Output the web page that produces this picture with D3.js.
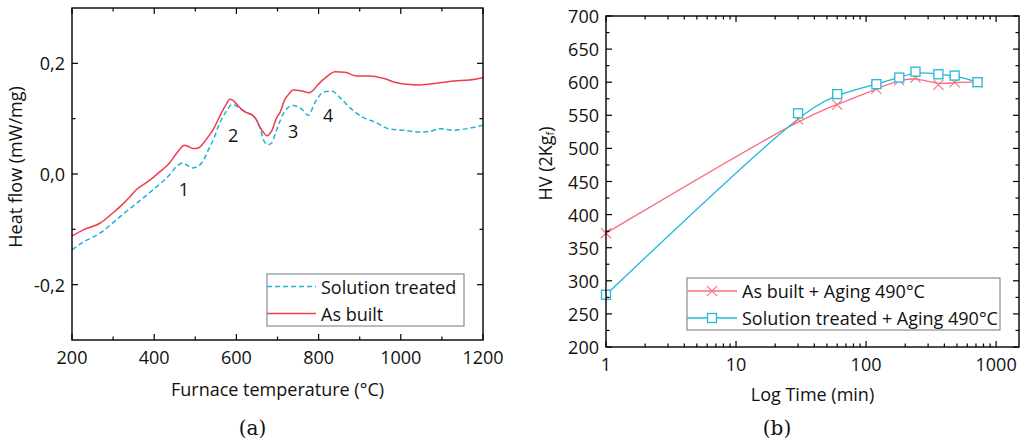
<!DOCTYPE html>
<html>
<head>
<meta charset="utf-8">
<script src="https://cdn.jsdelivr.net/npm/d3@7"></script>
<style>
  body { margin: 0; background: #fff; }
  svg { display: block; font-family: "Open Sans", sans-serif; }
  .tick-label { font-size: 18px; fill: #111; }
  .axis-title { font-size: 18px; fill: #111; }
  .legend-text { font-size: 18px; fill: #111; }
  .caption { font-family: "DejaVu Serif", serif; font-size: 20px; fill: #111; }
</style>
</head>
<body>
<div id="viz"></div>
<script>
// (a) DSC heat flow curves
const asBuiltT = [200, 230, 268, 300, 317, 340, 357, 380, 398, 420, 434, 455, 465, 473, 485, 495, 507, 520, 532, 545,
  556, 573, 584, 590, 597, 617, 641, 650, 657, 667, 674, 680, 686, 698, 706, 718, 726, 738, 759, 777, 785, 799,
  820, 840, 864, 893, 925, 957, 990, 1014, 1047, 1087, 1128, 1168, 1200];
const asBuiltHF = [-0.112, -0.100, -0.089, -0.070, -0.059, -0.042, -0.028, -0.016, -0.006, 0.008, 0.017, 0.038, 0.047,
  0.052, 0.049, 0.046, 0.047, 0.056, 0.068, 0.082, 0.099, 0.123, 0.135, 0.134, 0.129, 0.114, 0.105, 0.096, 0.085,
  0.074, 0.069, 0.072, 0.078, 0.102, 0.111, 0.135, 0.143, 0.152, 0.150, 0.147, 0.150, 0.162, 0.176, 0.185, 0.184,
  0.177, 0.177, 0.173, 0.165, 0.162, 0.161, 0.164, 0.168, 0.170, 0.174];
const solTreatedT = [200, 230, 268, 300, 317, 357, 398, 438, 455, 469, 480, 491, 507, 520, 532, 545, 556, 576, 590, 609,
  630, 641, 650, 661, 668, 677, 686, 698, 718, 738, 759, 775, 791, 812, 832, 852, 876, 909, 937, 969, 1006, 1047,
  1071, 1095, 1128, 1168, 1200];
const solTreatedHF = [-0.137, -0.122, -0.107, -0.088, -0.077, -0.053, -0.028, -0.001, 0.014, 0.020, 0.016, 0.011, 0.014,
  0.025, 0.044, 0.064, 0.086, 0.114, 0.126, 0.118, 0.109, 0.105, 0.096, 0.074, 0.058, 0.053, 0.056, 0.080, 0.114,
  0.124, 0.117, 0.106, 0.129, 0.148, 0.150, 0.138, 0.120, 0.102, 0.094, 0.082, 0.079, 0.076, 0.077, 0.082, 0.079,
  0.083, 0.088];
const peakLabels = ['1', '2', '3', '4'];
const peakT = [472, 592, 738, 823];
const peakHF = [-0.027, 0.070, 0.077, 0.106];
const tempTicks = [200, 400, 600, 800, 1000, 1200];
const tempMinor = [300, 500, 700, 900, 1100];
const hfTicks = [-0.2, 0.0, 0.2];
const hfMinor = [-0.1, 0.1];

// (b) hardness vs aging time
const agingTime = [1, 30, 60, 120, 180, 240, 360, 480, 720];
const hvAsBuilt = [372, 544, 566, 590, 603, 607, 596, 600, 600];
const hvSolTreated = [279, 553, 582, 597, 607, 616, 612, 610, 600];
const hvTicks = [200, 250, 300, 350, 400, 450, 500, 550, 600, 650, 700];
const timeTicks = [1, 10, 100, 1000];

const RED_A = '#f03c4c', CYAN_A = '#1db4d6';
const RED_B = '#f4707c', CYAN_B = '#22b8d8';

const svg = d3.select('#viz').append('svg')
  .attr('width', 1024)
  .attr('height', 446);

function frame(g, w, h) {
  g.append('rect')
    .attr('width', w).attr('height', h)
    .attr('fill', 'none').attr('stroke', '#000').attr('stroke-width', 1.4);
}

// inward ticks on all four sides
function ticksX(g, x, vals, h, len) {
  g.selectAll(null).data(vals).enter().append('line')
    .attr('x1', d => x(d)).attr('x2', d => x(d))
    .attr('y1', h).attr('y2', h - len)
    .attr('stroke', '#000').attr('stroke-width', 1.2);
  g.selectAll(null).data(vals).enter().append('line')
    .attr('x1', d => x(d)).attr('x2', d => x(d))
    .attr('y1', 0).attr('y2', len)
    .attr('stroke', '#000').attr('stroke-width', 1.2);
}

function ticksY(g, y, vals, w, len) {
  g.selectAll(null).data(vals).enter().append('line')
    .attr('y1', d => y(d)).attr('y2', d => y(d))
    .attr('x1', 0).attr('x2', len)
    .attr('stroke', '#000').attr('stroke-width', 1.2);
  g.selectAll(null).data(vals).enter().append('line')
    .attr('y1', d => y(d)).attr('y2', d => y(d))
    .attr('x1', w).attr('x2', w - len)
    .attr('stroke', '#000').attr('stroke-width', 1.2);
}

// ---------- chart (a) ----------
const aW = 411, aH = 332;
const ga = svg.append('g').attr('transform', 'translate(72,8)');
const xa = d3.scaleLinear().domain([200, 1200]).range([0, aW]);
const ya = d3.scaleLinear().domain([-0.3, 0.3]).range([aH, 0]);

const lineA = d3.line()
  .x(d => xa(d[0]))
  .y(d => ya(d[1]))
  .curve(d3.curveMonotoneX);

ga.append('path')
  .datum(d3.zip(solTreatedT, solTreatedHF))
  .attr('d', lineA)
  .attr('fill', 'none')
  .attr('stroke', CYAN_A)
  .attr('stroke-width', 1.5)
  .attr('stroke-dasharray', '5,3');

ga.append('path')
  .datum(d3.zip(asBuiltT, asBuiltHF))
  .attr('d', lineA)
  .attr('fill', 'none')
  .attr('stroke', RED_A)
  .attr('stroke-width', 1.5);

ga.selectAll('.peak')
  .data(d3.zip(peakLabels, peakT, peakHF))
  .enter().append('text')
  .attr('class', 'tick-label')
  .attr('x', d => xa(d[1]))
  .attr('y', d => ya(d[2]))
  .attr('text-anchor', 'middle')
  .attr('dominant-baseline', 'central')
  .text(d => d[0]);

frame(ga, aW, aH);
ticksX(ga, xa, tempTicks, aH, 6);
ticksX(ga, xa, tempMinor, aH, 3.5);
ticksY(ga, ya, hfTicks, aW, 6);
ticksY(ga, ya, hfMinor, aW, 3.5);

ga.selectAll('.xl').data(tempTicks).enter().append('text')
  .attr('class', 'tick-label')
  .attr('x', d => xa(d)).attr('y', aH + 17)
  .attr('text-anchor', 'middle')
  .attr('dominant-baseline', 'central')
  .text(d => d);

ga.selectAll('.yl').data(hfTicks).enter().append('text')
  .attr('class', 'tick-label')
  .attr('x', -7).attr('y', d => ya(d))
  .attr('text-anchor', 'end')
  .attr('dominant-baseline', 'central')
  .text(d => d3.format('.1f')(d).replace('.', ',').replace('−', '-'));

ga.append('text')
  .attr('class', 'axis-title')
  .attr('x', aW / 2).attr('y', aH + 49)
  .attr('text-anchor', 'middle')
  .attr('dominant-baseline', 'central')
  .text('Furnace temperature (°C)');

ga.append('text')
  .attr('class', 'axis-title')
  .attr('font-size', 19)
  .attr('transform', `translate(-57,${aH / 2 - 7}) rotate(-90)`)
  .attr('text-anchor', 'middle')
  .attr('dominant-baseline', 'central')
  .text('Heat flow (mW/mg)');

// legend (a)
const la = ga.append('g').attr('transform', `translate(${aW - 216},${aH - 66})`);
la.append('rect')
  .attr('width', 197).attr('height', 52)
  .attr('fill', '#fff').attr('stroke', '#777').attr('stroke-width', 1);
la.append('line')
  .attr('x1', 0).attr('x2', 49).attr('y1', 12.5).attr('y2', 12.5)
  .attr('stroke', CYAN_A).attr('stroke-width', 1.5).attr('stroke-dasharray', '5,3');
la.append('line')
  .attr('x1', 0).attr('x2', 49).attr('y1', 39.5).attr('y2', 39.5)
  .attr('stroke', RED_A).attr('stroke-width', 1.5);
la.append('text').attr('class', 'legend-text')
  .attr('x', 54).attr('y', 12.5).attr('dominant-baseline', 'central')
  .text('Solution treated');
la.append('text').attr('class', 'legend-text')
  .attr('x', 54).attr('y', 39.5).attr('dominant-baseline', 'central')
  .text('As built');

svg.append('text')
  .attr('class', 'caption')
  .attr('x', 72 + aW / 2 - 25).attr('y', 428)
  .attr('text-anchor', 'middle')
  .attr('dominant-baseline', 'central')
  .text('(a)');

// ---------- chart (b) ----------
const bW = 413, bH = 331;
const gb = svg.append('g').attr('transform', 'translate(606,16)');
const xb = d3.scaleLog().domain([1, 1500]).range([0, bW]);
const yb = d3.scaleLinear().domain([200, 700]).range([bH, 0]);

const timeMinor = [];
[1, 10, 100, 1000].forEach(dec => {
  for (let k = 2; k <= 9; k++) if (dec * k <= 1500) timeMinor.push(dec * k);
});
const hvMinor = hvTicks.slice(0, -1).map(v => v + 25);

const lineB = d3.line()
  .x(d => xb(d[0]))
  .y(d => yb(d[1]))
  .curve(d3.curveBasis);

gb.append('path')
  .datum(d3.zip(agingTime, hvAsBuilt))
  .attr('d', lineB)
  .attr('fill', 'none')
  .attr('stroke', RED_B)
  .attr('stroke-width', 1.3);

gb.append('path')
  .datum(d3.zip(agingTime, hvSolTreated))
  .attr('d', lineB)
  .attr('fill', 'none')
  .attr('stroke', CYAN_B)
  .attr('stroke-width', 1.3);

const cross = d3.symbol().type(d3.symbolX).size(70);
gb.selectAll('.mx')
  .data(d3.zip(agingTime, hvAsBuilt))
  .enter().append('path')
  .attr('d', cross)
  .attr('transform', d => `translate(${xb(d[0])},${yb(d[1])})`)
  .attr('fill', 'none')
  .attr('stroke', RED_B)
  .attr('stroke-width', 1.1);

gb.selectAll('.ms')
  .data(d3.zip(agingTime, hvSolTreated))
  .enter().append('rect')
  .attr('x', d => xb(d[0]) - 4.5)
  .attr('y', d => yb(d[1]) - 4.5)
  .attr('width', 9).attr('height', 9)
  .attr('fill', '#fff')
  .attr('stroke', CYAN_B)
  .attr('stroke-width', 1.3);

frame(gb, bW, bH);
ticksX(gb, xb, timeTicks, bH, 6);
ticksX(gb, xb, timeMinor, bH, 3.5);
ticksY(gb, yb, hvTicks, bW, 6);
ticksY(gb, yb, hvMinor, bW, 3.5);

gb.selectAll('.xl').data(timeTicks).enter().append('text')
  .attr('class', 'tick-label')
  .attr('x', d => xb(d)).attr('y', bH + 17)
  .attr('text-anchor', 'middle')
  .attr('dominant-baseline', 'central')
  .text(d => d);

gb.selectAll('.yl').data(hvTicks).enter().append('text')
  .attr('class', 'tick-label')
  .attr('x', -7).attr('y', d => yb(d))
  .attr('text-anchor', 'end')
  .attr('dominant-baseline', 'central')
  .text(d => d);

gb.append('text')
  .attr('class', 'axis-title')
  .attr('x', bW / 2).attr('y', bH + 47)
  .attr('text-anchor', 'middle')
  .attr('dominant-baseline', 'central')
  .text('Log Time (min)');

const yt = gb.append('text')
  .attr('class', 'axis-title')
  .attr('transform', `translate(-61,${bH / 2 - 18}) rotate(-90)`)
  .attr('text-anchor', 'middle')
  .attr('dominant-baseline', 'central');
yt.append('tspan').text('HV (2Kg');
yt.append('tspan').attr('font-size', 11).attr('dy', 4).text('f');
yt.append('tspan').attr('dy', -4).text(')');

// legend (b)
const lb = gb.append('g').attr('transform', `translate(${xb(1) + 81},${bH - 69})`);
lb.append('rect')
  .attr('width', 313).attr('height', 52)
  .attr('fill', '#fff').attr('stroke', '#777').attr('stroke-width', 1);
lb.append('line')
  .attr('x1', 0).attr('x2', 50).attr('y1', 13).attr('y2', 13)
  .attr('stroke', RED_B).attr('stroke-width', 1.3);
lb.append('path')
  .attr('d', cross)
  .attr('transform', 'translate(25,13)')
  .attr('fill', 'none').attr('stroke', RED_B).attr('stroke-width', 1.1);
lb.append('line')
  .attr('x1', 0).attr('x2', 50).attr('y1', 40).attr('y2', 40)
  .attr('stroke', CYAN_B).attr('stroke-width', 1.3);
lb.append('rect')
  .attr('x', 20.5).attr('y', 35.5).attr('width', 9).attr('height', 9)
  .attr('fill', '#fff').attr('stroke', CYAN_B).attr('stroke-width', 1.3);
lb.append('text').attr('class', 'legend-text')
  .attr('x', 55).attr('y', 13).attr('dominant-baseline', 'central')
  .text('As built + Aging 490°C');
lb.append('text').attr('class', 'legend-text')
  .attr('x', 55).attr('y', 40).attr('dominant-baseline', 'central')
  .text('Solution treated + Aging 490°C');

svg.append('text')
  .attr('class', 'caption')
  .attr('x', 777).attr('y', 428)
  .attr('text-anchor', 'middle')
  .attr('dominant-baseline', 'central')
  .text('(b)');
</script>
</body>
</html>
